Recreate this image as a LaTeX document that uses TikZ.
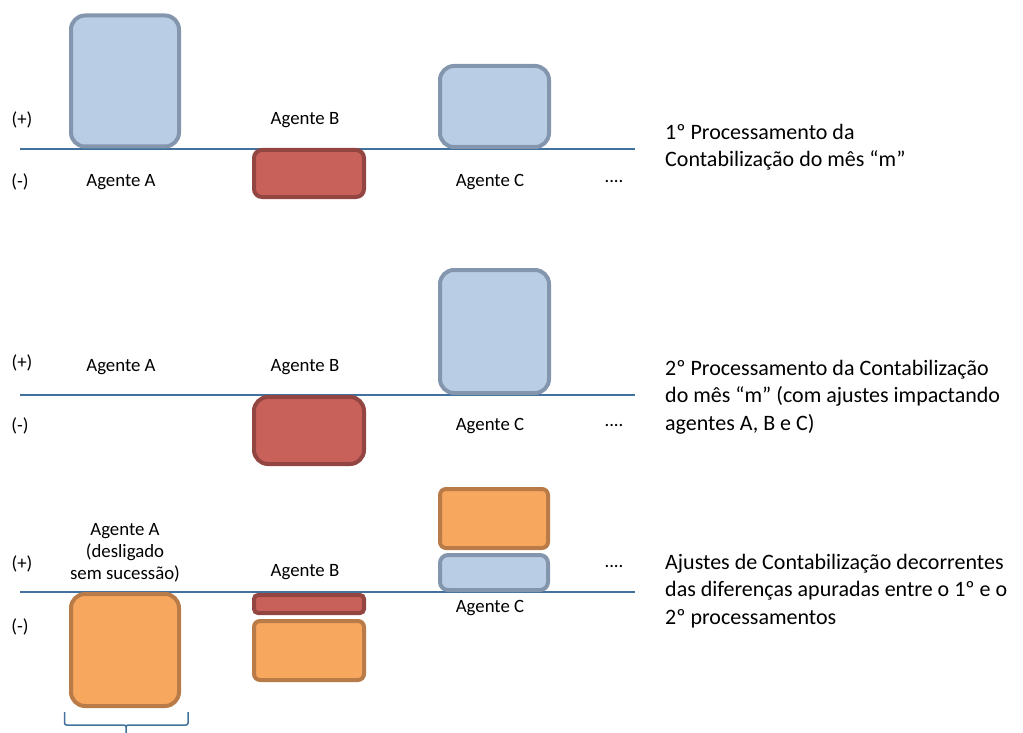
\documentclass[tikz,border=0pt]{standalone}
\usepackage{fontspec}
\setmainfont{Carlito}

\definecolor{bluefill}{HTML}{B9CDE5}
\definecolor{bluedraw}{HTML}{8496AE}
\definecolor{redfill}{HTML}{C9615B}
\definecolor{reddraw}{HTML}{924541}
\definecolor{orangefill}{HTML}{F7A75E}
\definecolor{orangedraw}{HTML}{B97C48}
\definecolor{axisline}{HTML}{41719C}

\tikzset{
    bar/.style={draw, line width=4pt, rounded corners=14pt, inner sep=0pt},
    posbar/.style={bar, fill=bluefill, draw=bluedraw},
    negbar/.style={bar, fill=redfill, draw=reddraw},
    adjbar/.style={bar, fill=orangefill, draw=orangedraw},
    lbl/.style={font=\fontsize{18.8}{22}\selectfont, inner sep=0pt, align=center},
    desc/.style={font=\fontsize{22}{27.5}\selectfont, inner sep=0pt, align=left, anchor=west},
    axis/.style={draw=axisline, line width=1.2pt}
}

\begin{document}
\begin{tikzpicture}[x=1pt, y=-1pt]
    \useasboundingbox (0,0) rectangle (1023,733);

    % 1o processamento
    \coordinate (l1) at (20, 149);
    \coordinate (r1) at (635, 149);
    \draw[axis] (l1) -- (r1);
    \node[posbar, minimum width=108pt, minimum height=131pt] (a1) at (125, 81) {};
    \node[negbar, minimum width=110pt, minimum height=47pt, rounded corners=8pt] (b1) at (309, 173.5) {};
    \node[posbar, minimum width=109pt, minimum height=81pt] (c1) at (494.5, 106.5) {};
    \node[lbl] (p1) at (22, 120) {(+)};
    \node[lbl] (m1) at (20, 182) {(-)};
    \node[lbl] (na1) at (121, 182) {Agente A};
    \node[lbl] (nb1) at (305, 120) {Agente B};
    \node[lbl] (nc1) at (490, 182) {Agente C};
    \node[lbl] (d1) at (614, 182) {....};
    \node[desc] (t1) at (665, 147) {1º Processamento da\\Contabilização do mês “m”};

    % 2o processamento
    \coordinate (l2) at (20, 395);
    \coordinate (r2) at (635, 395);
    \draw[axis] (l2) -- (r2);
    \node[negbar, minimum width=110pt, minimum height=67pt] (b2) at (309, 430.5) {};
    \node[posbar, minimum width=109pt, minimum height=123pt] (c2) at (494.5, 331.5) {};
    \node[lbl] (p2) at (22, 363) {(+)};
    \node[lbl] (m2) at (20, 426) {(-)};
    \node[lbl] (na2) at (121, 367) {Agente A};
    \node[lbl] (nb2) at (305, 367) {Agente B};
    \node[lbl] (nc2) at (490, 426) {Agente C};
    \node[lbl] (d2) at (614, 426) {....};
    \node[desc] (t2) at (665, 397) {2º Processamento da Contabilização\\do mês “m” (com ajustes impactando\\agentes A, B e C)};

    % ajustes
    \coordinate (l3) at (20, 592);
    \coordinate (r3) at (635, 592);
    \draw[axis] (l3) -- (r3);
    \node[adjbar, minimum width=108pt, minimum height=112pt] (a3) at (125, 650) {};
    \node[negbar, minimum width=110pt, minimum height=18pt, rounded corners=4pt] (b3) at (309, 604) {};
    \node[adjbar, minimum width=110pt, minimum height=59pt, rounded corners=6pt] (bb3) at (309, 650.5) {};
    \node[adjbar, minimum width=108pt, minimum height=59pt, rounded corners=6pt] (cc3) at (494, 518.5) {};
    \node[posbar, minimum width=108pt, minimum height=35pt, rounded corners=8pt] (c3) at (494, 572.5) {};
    \node[lbl] (p3) at (22, 564) {(+)};
    \node[lbl] (m3) at (20, 627) {(-)};
    \node[lbl] (na3) at (125, 553) {Agente A\\(desligado\\sem sucessão)};
    \node[lbl] (nb3) at (305, 572) {Agente B};
    \node[lbl] (nc3) at (490, 608) {Agente C};
    \node[lbl] (d3) at (614, 567) {....};
    \node[desc] (t3) at (665, 591) {Ajustes de Contabilização decorrentes\\das diferenças apuradas entre o 1º e o\\2º processamentos};

    % chave
    \coordinate (bl) at (64.5, 712);
    \coordinate (br) at (188, 712);
    \coordinate (bm) at (126, 735);
    \draw[axis, line width=1.5pt, rounded corners=2pt]
        (bl) -- ++(0, 13) -| (bm)
        (br) -- ++(0, 13) -| (bm);
\end{tikzpicture}
\end{document}
